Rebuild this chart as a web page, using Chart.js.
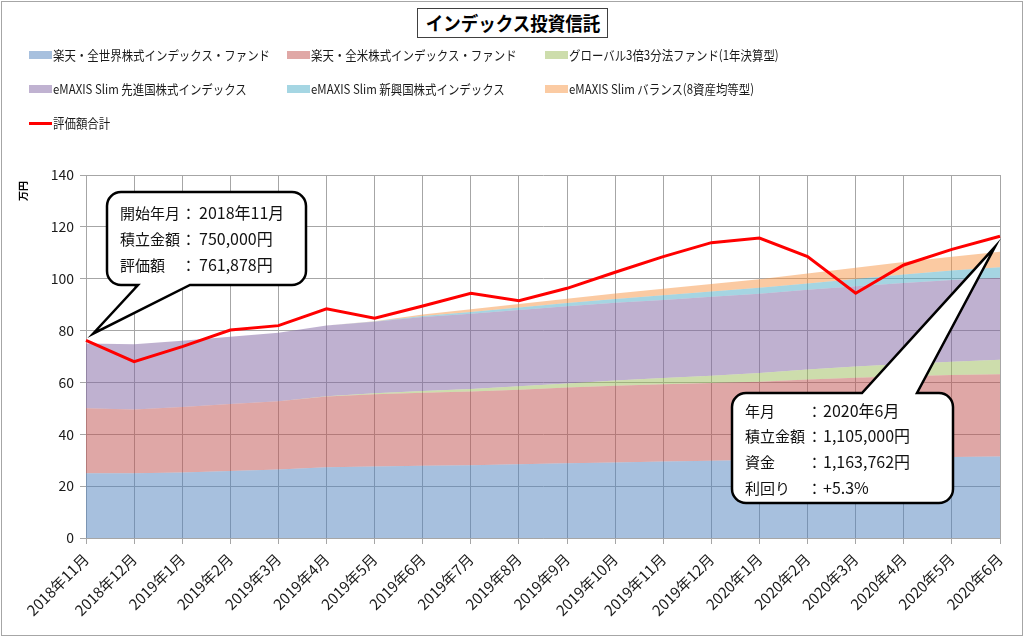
<!DOCTYPE html>
<html><head><meta charset="utf-8">
<script src="https://cdn.jsdelivr.net/npm/chart.js@4"></script>
<style>
body{margin:0;background:#fff;}
#wrap{position:relative;width:1024px;height:637px;overflow:hidden;font-family:'Noto Sans CJK JP','Noto Sans',sans-serif;}
#frame{position:absolute;left:1px;top:1px;width:1020px;height:633px;border:1px solid #a6a6a6;pointer-events:none;z-index:3;}
canvas{position:absolute;left:0;top:0;}
#title{position:absolute;left:417px;top:8px;width:189px;height:28px;border:1px solid #404040;background:#fff;z-index:2;white-space:nowrap;overflow:visible;}
#title span{position:absolute;left:50%;top:50%;font-size:19px;line-height:28px;font-weight:bold;color:#000;white-space:nowrap;transform:translate(-50%,-50%) scaleX(0.92);}
.sw{position:absolute;width:23px;height:8px;z-index:2;}
.lt{position:absolute;font-size:13px;line-height:18px;color:#1a1a1a;white-space:nowrap;transform:scaleX(0.88);transform-origin:left center;z-index:2;}
</style></head>
<body><div id="wrap">
<canvas id="c" width="1024" height="637"></canvas>
<div id="title"><span>インデックス投資信託</span></div>
<div id="legend"></div>
<div id="frame"></div>
</div>
<script>
const labels = ['2018年11月','2018年12月','2019年1月','2019年2月','2019年3月','2019年4月','2019年5月','2019年6月','2019年7月','2019年8月','2019年9月','2019年10月','2019年11月','2019年12月','2020年1月','2020年2月','2020年3月','2020年4月','2020年5月','2020年6月'];
const seriesNames = ['楽天・全世界株式インデックス・ファンド','楽天・全米株式インデックス・ファンド','グローバル3倍3分法ファンド(1年決算型)','eMAXIS Slim 先進国株式インデックス','eMAXIS Slim 新興国株式インデックス','eMAXIS Slim バランス(8資産均等型)','評価額合計'];
const rakutenWorld = [25.0,25.0,25.3,25.8,26.4,27.3,27.6,27.9,28.1,28.4,28.8,29.1,29.5,29.8,30.1,30.4,30.7,31.0,31.2,31.4];
const rakutenUS    = [25.0,24.6,25.2,25.9,26.3,27.3,27.8,28.1,28.4,28.8,29.2,29.6,29.8,30.0,30.2,30.7,31.1,31.4,31.7,31.8];
const global3x     = [0,0,0,0,0,0.1,0.4,0.7,1.0,1.3,1.6,2.0,2.4,2.8,3.3,3.9,4.3,4.7,5.1,5.5];
const slimDev      = [25.0,25.1,25.6,25.9,26.5,27.3,27.6,28.5,29.0,29.4,29.8,30.0,30.1,30.4,30.6,30.7,31.0,31.2,31.5,31.7];
const slimEmg      = [0,0,0,0,0,0,0.1,0.4,0.7,1.0,1.2,1.5,1.8,2.1,2.3,2.5,2.8,3.3,3.7,4.0];
const slimBal      = [0,0,0,0,0,0,0.1,0.6,1.0,1.3,1.7,2.1,2.5,2.9,3.3,3.8,4.3,4.8,5.3,6.0];
const totalValue   = [76.2,68.0,73.8,80.2,81.9,88.4,84.8,89.5,94.4,91.5,96.3,102.5,108.5,113.9,115.7,108.5,94.4,105.3,111.3,116.4];
const yTicks = [0,20,40,60,80,100,120,140];
const areaColors = ['rgba(79,129,189,0.5)','rgba(192,80,77,0.5)','rgba(155,187,89,0.5)','rgba(128,100,162,0.5)','rgba(75,172,198,0.5)','rgba(247,150,70,0.5)'];
const legendSw = ['#a7c0de','#e0a8a6','#cdddac','#c0b2d1','#a5d6e3','#fbcba3'];
const callout1 = ['開始年月','2018年11月','積立金額','750,000円','評価額','761,878円'];
const callout2 = ['年月','2020年6月','積立金額','1,105,000円','資金','1,163,762円','利回り','+5.3%'];

const leg = document.getElementById('legend');
const colX = [29,287,545], rowY = [55,89,123];
seriesNames.forEach((n,i)=>{
  const x = colX[i%3], y = rowY[Math.floor(i/3)];
  const sw = document.createElement('div'); sw.className='sw';
  if(i<6){ sw.style.left=x+'px'; sw.style.top=(y-4)+'px'; sw.style.background=legendSw[i]; }
  else { sw.style.left=x+'px'; sw.style.top=(y-1)+'px'; sw.style.height='3px'; sw.style.background='#ff0000'; }
  leg.appendChild(sw);
  const t = document.createElement('div'); t.className='lt'; t.textContent=n;
  t.style.left=(x+24)+'px'; t.style.top=(y-9)+'px'; leg.appendChild(t);
});

const series = [rakutenWorld,rakutenUS,global3x,slimDev,slimEmg,slimBal];
const datasets = series.map((d,i)=>({
  label: seriesNames[i], data: d, stack:'a', backgroundColor: areaColors[i],
  borderWidth: 0, pointRadius: 0, tension: 0, fill: i===0?'origin':'-1'
}));
datasets.push({label: seriesNames[6], data: totalValue, stack:'b', borderColor:'#ff0000', borderWidth:3,
  pointRadius:0, fill:false, tension:0, order:-1});

function bubble(ctx, l, t, R, B, r, tail, tip){
  ctx.beginPath();
  ctx.moveTo(l+r, t);
  if(tail.side==='top'){ ctx.lineTo(tail.a, t); ctx.lineTo(tip.x, tip.y); ctx.lineTo(tail.b, t); }
  ctx.lineTo(R-r, t); ctx.arcTo(R, t, R, t+r, r);
  ctx.lineTo(R, B-r); ctx.arcTo(R, B, R-r, B, r);
  if(tail.side==='bottom'){ ctx.lineTo(tail.b, B); ctx.lineTo(tip.x, tip.y); ctx.lineTo(tail.a, B); }
  ctx.lineTo(l+r, B); ctx.arcTo(l, B, l, B-r, r);
  ctx.lineTo(l, t+r); ctx.arcTo(l, t, l+r, t, r);
  ctx.closePath();
  ctx.fillStyle='#fff'; ctx.fill();
  ctx.lineWidth=2.5; ctx.strokeStyle='#000'; ctx.lineJoin='miter'; ctx.stroke();
}

const annot = {
  id:'annot',
  afterDraw(chart){
    const ctx = chart.ctx, xs = chart.scales.x, ys = chart.scales.y;
    ctx.save();
    ctx.save(); ctx.translate(23, 191); ctx.rotate(-Math.PI/2);
    ctx.font = "bold 10px 'Noto Sans CJK JP'"; ctx.fillStyle='#000'; ctx.textAlign='center'; ctx.textBaseline='middle';
    ctx.fillText('万円',0,0); ctx.restore();
    const tip1 = {x: xs.getPixelForValue(0)+7, y: ys.getPixelForValue(78.8)};
    bubble(ctx, 107, 192, 306, 285, 14, {side:'bottom', a:138, b:190}, tip1);
    const tip2 = {x: xs.getPixelForValue(19)-5, y: ys.getPixelForValue(112.3)};
    bubble(ctx, 732, 393, 953, 503, 14, {side:'top', a:862, b:917}, tip2);
    const fl = "15px 'Noto Sans CJK JP'", fv = "16px 'Noto Sans CJK JP'";
    ctx.fillStyle='#111'; ctx.textBaseline='middle'; ctx.textAlign='left';
    const y1 = [213,239,265];
    for(let i=0;i<3;i++){
      ctx.font = fl; ctx.fillText(callout1[2*i],120,y1[i]); ctx.fillText('：',181,y1[i]);
      ctx.font = fv; ctx.fillText(callout1[2*i+1],199,y1[i]);
    }
    const y2 = [411,436,462,488];
    for(let i=0;i<4;i++){
      ctx.font = fl; ctx.fillText(callout2[2*i],745,y2[i]); ctx.fillText('：',807,y2[i]);
      ctx.font = fv; ctx.fillText(callout2[2*i+1],823,y2[i]);
    }
    ctx.restore();
  }
};

Chart.defaults.font.family = "'Noto Sans CJK JP','Noto Sans',sans-serif";
new Chart(document.getElementById('c'), {
  type:'line',
  data:{labels, datasets},
  options:{
    responsive:false, animation:false,
    layout:{padding:{top:175,right:24,bottom:0,left:0}},
    plugins:{legend:{display:false}, tooltip:{enabled:false}, filler:{propagate:false}},
    scales:{
      x:{
        offset:false,
        grid:{color:'#a6a6a6', lineWidth:1, tickLength:6, drawTicks:true},
        border:{color:'#a6a6a6'},
        ticks:{minRotation:45, maxRotation:45, autoSkip:false, color:'#1a1a1a', font:{size:15}, padding:6},
        afterFit(s){ s.height = 99; }
      },
      y:{
        stacked:true, min:0, max:140,
        afterBuildTicks(s){ s.ticks = yTicks.map(v=>({value:v})); },
        grid:{color:'#a6a6a6', lineWidth:1, tickLength:6},
        border:{color:'#a6a6a6'},
        ticks:{color:'#1a1a1a', font:{size:14}, padding:6},
        afterFit(s){ s.width = 86; }
      }
    }
  },
  plugins:[annot]
});
</script>
</body></html>
